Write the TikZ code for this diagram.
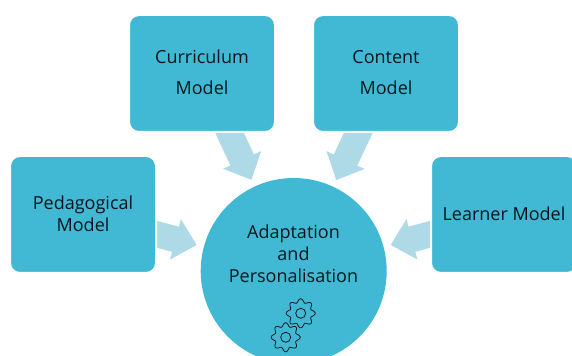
\documentclass[tikz,border=0pt]{standalone}
\usepackage{fontspec}
\setmainfont{Open Sans}
\usetikzlibrary{calc,backgrounds}
\definecolor{modelblue}{HTML}{41B9D4}
\definecolor{flowblue}{HTML}{AEDAE7}
\definecolor{inkblue}{HTML}{08161C}
\tikzset{
  model/.style={rectangle,rounded corners=7.5pt,fill=modelblue,draw=white,line width=1.5pt,
    minimum width=109.5pt,minimum height=87.75pt,inner sep=0pt,outer sep=0pt,align=center,
    text=inkblue,font=\fontsize{13.5}{16.5}\selectfont},
  flow/.style={fill=flowblue},
  gear/.style={draw=inkblue,line width=0.6pt}
}
\newcommand\liftline{\\[-14.5pt]}
\newcommand\flowarrow[2]{%
  \path (#1) -- (#2) coordinate[pos=0] (s) coordinate[pos=1] (t);
  \coordinate (tip) at ($(t)!5.6pt!(s)$);
  \coordinate (base) at ($(tip)!16.5pt!(s)$);
  \coordinate (tail) at ($(s)!-8pt!(t)$);
  \fill[flow] ($(tail)!9.75pt!90:(tip)$)--($(base)!9.75pt!90:(tip)$)--($(base)!15.75pt!90:(tip)$)
  --(tip)--($(base)!15.75pt!-90:(tip)$)--($(base)!9.75pt!-90:(tip)$)--($(tail)!9.75pt!-90:(tip)$)--cycle;
}
\newcommand\gearwheel[1]{%
  \draw[gear] (#1) circle (5);
  \draw[gear,shift={(#1)}] plot[domain=0:360,samples=145,smooth] ({\x}:{12.7+1.8*cos(8*\x)}) -- cycle;
}
\begin{document}
\begin{tikzpicture}[x=0.75pt,y=-0.75pt]
\path[use as bounding box,clip] (0,0) rectangle (572,356);

\node[model] (curriculum) at (202,73.5) {Curriculum\\[6.8pt]Model\liftline};
\node[model] (content) at (386,73.5) {Content\\[6.8pt]Model\liftline};
\node[model] (pedagogical) at (83,214.5) {Pedagogical\\Model\liftline};
\node[model] (learner) at (504,214.5) {Learner Model\liftline};
\node[circle,fill=modelblue,minimum size=139.5pt,inner sep=0pt,outer sep=0pt] (adapt) at (293.7,271) {};
\node[align=center,text=inkblue,font=\fontsize{13.5}{16.5}\selectfont] (adapttext) at (293.5,253.7) {Adaptation\\and\\Personalisation};

\begin{pgfonlayer}{background}
\flowarrow{curriculum}{adapt}
\flowarrow{content}{adapt}
\flowarrow{pedagogical}{adapt}
\flowarrow{learner}{adapt}
\end{pgfonlayer}

\coordinate (upper) at (300.7,313.3);
\coordinate (lower) at (285.7,337.3);
\gearwheel{upper}
\gearwheel{lower}
\end{tikzpicture}
\end{document}
